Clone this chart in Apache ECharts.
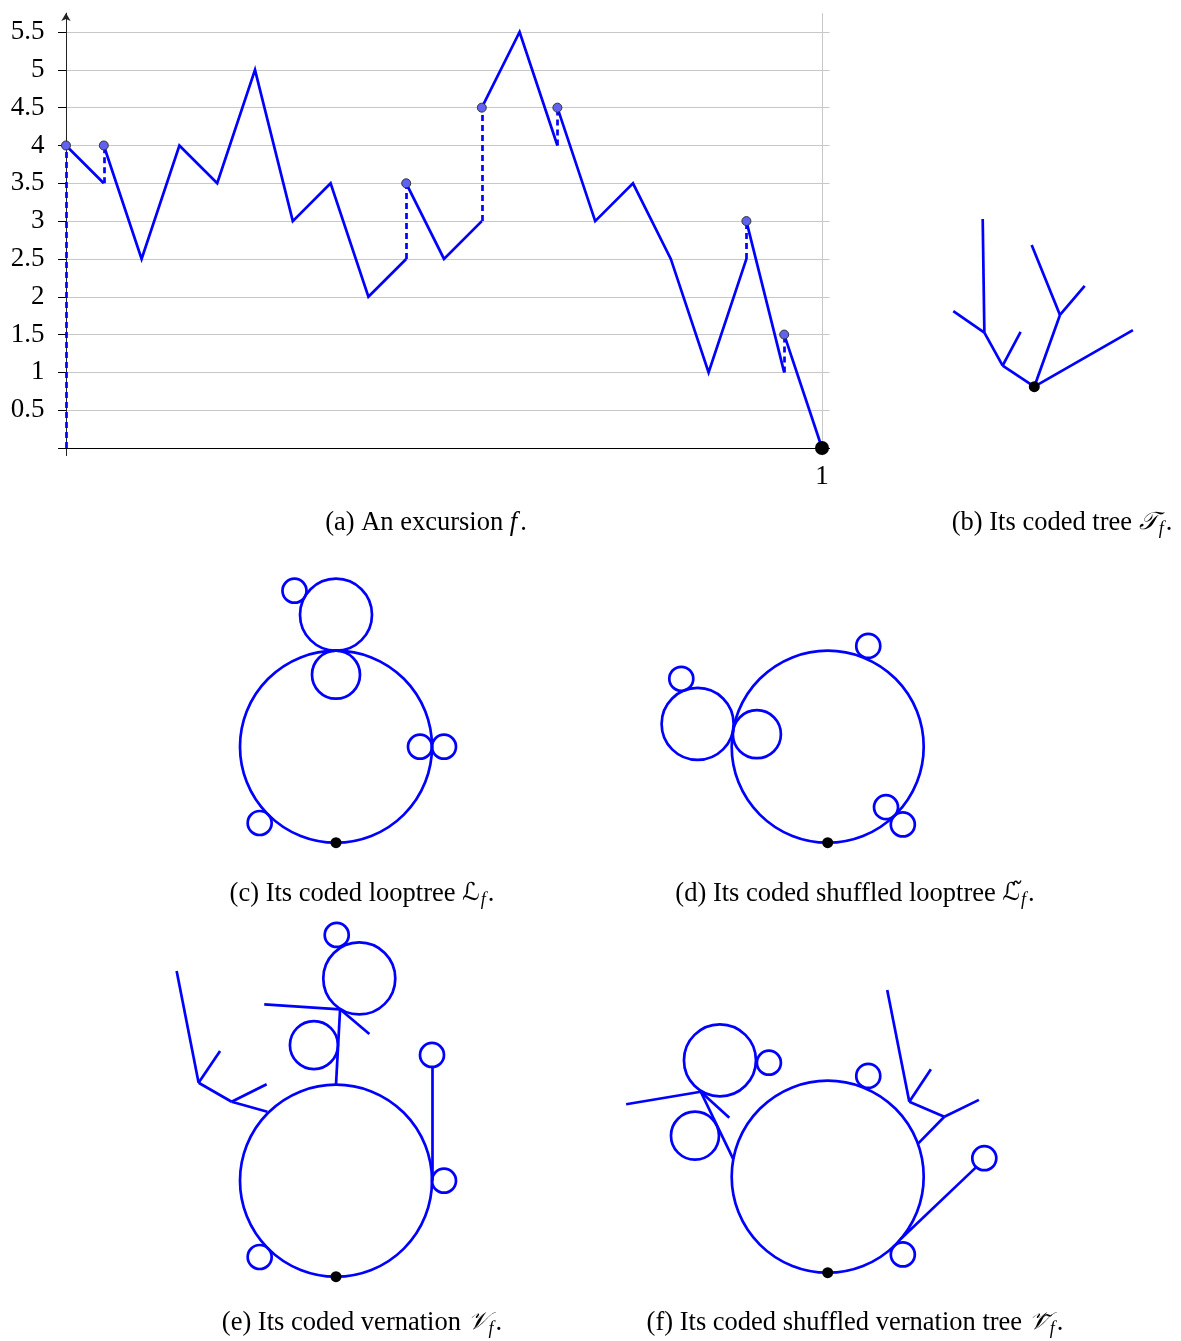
<!DOCTYPE html>
<html>
<head>
<meta charset="utf-8">
<script src="https://cdn.jsdelivr.net/npm/echarts@6/dist/echarts.min.js"></script>
<style>
  html, body { margin: 0; padding: 0; background: #ffffff; }
  #chart { width: 1181px; height: 1341px; }
</style>
</head>
<body>
<div id="chart"></div>
<script>
// ---------- (a) the excursion f ----------
// Times of the grid, left limits f(t-) and values f(t) (jumps where they differ).
const times  = [0, 0.05, 0.1, 0.15, 0.2, 0.25, 0.3, 0.35, 0.4, 0.45, 0.5, 0.55, 0.6, 0.65, 0.7, 0.75, 0.8, 0.85, 0.9, 0.95, 1];
const fLeft  = [0, 3.5, 2.5, 4, 3.5, 5, 3, 3.5, 2, 2.5, 2.5, 3, 5.5, 4, 3, 3.5, 2.5, 1, 2.5, 1, 0];
const fRight = [4, 4, 2.5, 4, 3.5, 5, 3, 3.5, 2, 3.5, 2.5, 4.5, 5.5, 4.5, 3, 3.5, 2.5, 1, 3, 1.5, 0];
const yTickValues = [0.5, 1, 1.5, 2, 2.5, 3, 3.5, 4, 4.5, 5, 5.5];
const xTickValues = [1];

// ---------- (b) coded tree: node positions (root first) and edges ----------
const treeNodes = [[0, 0], [-1.32, 0.875], [-0.57, 2.28], [-2.08, 2.25], [-3.375, 3.15], [-2.15, 6.99],
                   [1.07, 2.99], [-0.11, 5.9], [2.1, 4.2], [4.11, 2.36]];
const treeEdges = [[0, 1], [1, 2], [1, 3], [3, 4], [3, 5], [0, 6], [6, 7], [6, 8], [0, 9]];

// ---------- (c) looptree: loops as [centerX, centerY, radius] ----------
const loopsC = [[0, 4, 4], [0, 7, 1], [0, 9.5, 1.5], [-1.73, 10.5, 0.5], [3.5, 4, 0.5], [4.5, 4, 0.5], [-3.18, 0.82, 0.5]];

// ---------- (d) shuffled looptree ----------
const loopsD = [[0, 4, 4], [-2.95, 4.52, 1], [-5.42, 4.95, 1.5], [-6.1, 6.83, 0.5], [1.69, 8.2, 0.5], [2.43, 1.48, 0.5], [3.13, 0.76, 0.5]];

// ---------- (e) vernation ----------
const loopsE = [[0, 4, 4], [4.5, 4, 0.5], [4, 9.24, 0.5], [-3.18, 0.82, 0.5], [0.97, 12.43, 1.5], [0.03, 14.24, 0.5], [-0.92, 9.65, 1]];
const stickNodesE = [[4, 4], [4, 8.74], [0, 8], [0.17, 11.14], [-2.99, 11.35], [1.39, 10.11],
                     [-2.86, 6.875], [-4.35, 7.29], [-2.89, 8.02], [-5.725, 8.08], [-4.83, 9.4], [-6.64, 12.74]];
const stickEdgesE = [[0, 1], [2, 3], [3, 4], [3, 5], [6, 7], [7, 8], [7, 9], [9, 10], [9, 11]];

// ---------- (f) shuffled vernation tree ----------
const loopsF = [[0, 4, 4], [1.69, 8.2, 0.5], [6.525, 4.77, 0.5], [3.13, 0.76, 0.5], [-4.49, 8.85, 1.5], [-2.45, 8.75, 0.5], [-5.53, 5.71, 1]];
const stickNodesF = [[3.775, 5.39], [4.86, 6.5], [6.3, 7.2], [3.4, 7.125], [4.3, 8.475], [2.48, 11.78],
                     [3.03, 1.39], [6.21, 4.42], [-3.93, 4.725], [-5.29, 7.54], [-8.4, 7.02], [-4.1, 6.46]];
const stickEdgesF = [[0, 1], [1, 2], [1, 3], [3, 4], [3, 5], [6, 7], [8, 9], [9, 10], [9, 11]];

// ---------- captions ----------
const captionTexts = [
  '{n|(a) An excursion }{i|f}{n|.}',
  '{n|(b) Its coded tree }{m|\u{1D4AF}}{sub|f}{n|.}',
  '{n|(c) Its coded looptree }{m|\u2112}{sub|f}{n|.}',
  '{n|(d) Its coded shuffled looptree }{m|\u2112\u0303}{sub|f}{n|.}',
  '{n|(e) Its coded vernation }{m|\u{1D4B1}}{sub|f}{n|.}',
  '{n|(f) Its coded shuffled vernation tree }{m|\u{1D4B1}\u0303}{sub|f}{n|.}'
];

// ---------- styling / layout ----------
const BLUE = '#0000ff';
const LW = 2.7;
const SERIF = "'Liberation Serif', 'Times New Roman', serif";
const UNIT = 24; // pixels per drawing unit in panels (b)-(f)

function panelGrid(rootX, rootY, xr, yr) {
  return {
    left: rootX + xr[0] * UNIT,
    top: rootY - yr[1] * UNIT,
    width: (xr[1] - xr[0]) * UNIT,
    height: (yr[1] - yr[0]) * UNIT,
    outerBoundsMode: 'none'
  };
}
const panels = [
  { root: [1034.3, 386.7], xr: [-4, 5], yr: [-1, 8] },
  { root: [336, 842.7],    xr: [-5, 6], yr: [-1, 12] },
  { root: [827.7, 842.7],  xr: [-8, 5], yr: [-1, 10] },
  { root: [336, 1276.7],   xr: [-8, 6], yr: [-1, 16] },
  { root: [827.7, 1272.7], xr: [-9, 8], yr: [-1, 13] }
];
const captionPos = [[426, 523], [1062, 523], [362, 894], [855, 894], [362, 1323], [855, 1323]];

// ---------- build excursion pieces ----------
const solidPieces = [];
let piece = [[times[0], fRight[0]]];
for (let i = 1; i < times.length; i++) {
  piece.push([times[i], fLeft[i]]);
  if (fRight[i] !== fLeft[i] || i === times.length - 1) {
    solidPieces.push({ coords: piece });
    piece = [[times[i], fRight[i]]];
  }
}
const jumpLines = [];
const jumpTops = [];
for (let i = 0; i < times.length; i++) {
  if (fRight[i] !== fLeft[i]) {
    jumpLines.push({ coords: [[times[i], fLeft[i]], [times[i], fRight[i]]] });
    jumpTops.push([times[i], fRight[i]]);
  }
}

// ---------- grids / axes ----------
const grids = [{ left: 58.44, top: 13.1, width: 771.12, height: 442.5, outerBoundsMode: 'none' }]
  .concat(panels.map(p => panelGrid(p.root[0], p.root[1], p.xr, p.yr)));

const xAxes = [{
  gridIndex: 0, type: 'value', min: -0.01, max: 1.01,
  axisLine: { show: true, onZero: true, lineStyle: { color: '#000', width: 1 } },
  axisTick: { show: false, customValues: xTickValues },
  axisLabel: { customValues: xTickValues, color: '#000', fontFamily: SERIF, fontSize: 27, margin: 8 },
  splitLine: { show: true, lineStyle: { color: '#c8c8c8', width: 1 } }
}].concat(panels.map((p, k) => ({
  gridIndex: k + 1, type: 'value', min: p.xr[0], max: p.xr[1], show: false
})));

const yAxes = [{
  gridIndex: 0, type: 'value', min: -0.1, max: 5.75,
  axisLine: { show: true, onZero: true, symbol: ['none', 'arrow'], symbolSize: [7, 8], lineStyle: { color: '#222', width: 1 } },
  axisTick: { show: true, customValues: yTickValues, length: 8, lineStyle: { color: '#000' } },
  axisLabel: { customValues: yTickValues, color: '#000', fontFamily: SERIF, fontSize: 27, margin: 14 },
  splitLine: { show: true, lineStyle: { color: '#c8c8c8', width: 1 } }
}].concat(panels.map((p, k) => ({
  gridIndex: k + 1, type: 'value', min: p.yr[0], max: p.yr[1], show: false
})));

// ---------- series helpers ----------
function loopSeries(idx, loops) {
  return {
    type: 'custom', coordinateSystem: 'cartesian2d', xAxisIndex: idx, yAxisIndex: idx,
    data: loops, encode: { x: 0, y: 1 }, silent: true, z: 3,
    renderItem: (params, api) => {
      const c = api.coord([api.value(0), api.value(1)]);
      const r = api.size([api.value(2), 0])[0];
      return { type: 'circle', shape: { cx: c[0], cy: c[1], r: r },
               style: { fill: 'none', stroke: BLUE, lineWidth: LW } };
    }
  };
}
function stickSeries(idx, nodes, edges) {
  return {
    type: 'lines', coordinateSystem: 'cartesian2d', xAxisIndex: idx, yAxisIndex: idx,
    polyline: false, silent: true, z: 3,
    lineStyle: { color: BLUE, width: LW, opacity: 1, curveness: 0, cap: 'butt' },
    data: edges.map(e => ({ coords: [nodes[e[0]], nodes[e[1]]] }))
  };
}
function rootSeries(idx) {
  return {
    type: 'scatter', xAxisIndex: idx, yAxisIndex: idx, data: [[0, 0]],
    symbol: 'circle', symbolSize: 11, silent: true, z: 5,
    itemStyle: { color: '#000', opacity: 1 }
  };
}

const series = [
  {
    type: 'lines', coordinateSystem: 'cartesian2d', xAxisIndex: 0, yAxisIndex: 0,
    polyline: true, silent: true, z: 3,
    lineStyle: { color: BLUE, width: LW, opacity: 1, curveness: 0, join: 'miter', cap: 'butt' },
    data: solidPieces
  },
  {
    type: 'lines', coordinateSystem: 'cartesian2d', xAxisIndex: 0, yAxisIndex: 0,
    polyline: false, silent: true, z: 3,
    lineStyle: { color: BLUE, width: LW, opacity: 1, curveness: 0, type: [6, 4], cap: 'butt' },
    data: jumpLines
  },
  {
    type: 'scatter', xAxisIndex: 0, yAxisIndex: 0, data: jumpTops,
    symbol: 'circle', symbolSize: 9, silent: true, z: 5,
    itemStyle: { color: '#6262f2', borderColor: '#333', borderWidth: 1, opacity: 1 }
  },
  {
    type: 'scatter', xAxisIndex: 0, yAxisIndex: 0, data: [[times[times.length - 1], fRight[fRight.length - 1]]],
    symbol: 'circle', symbolSize: 14, silent: true, z: 6,
    itemStyle: { color: '#000', opacity: 1 }
  },
  // (b)
  stickSeries(1, treeNodes, treeEdges), rootSeries(1),
  // (c)
  loopSeries(2, loopsC), rootSeries(2),
  // (d)
  loopSeries(3, loopsD), rootSeries(3),
  // (e)
  loopSeries(4, loopsE), stickSeries(4, stickNodesE, stickEdgesE), rootSeries(4),
  // (f)
  loopSeries(5, loopsF), stickSeries(5, stickNodesF, stickEdgesF), rootSeries(5)
];

const capRich = {
  n:   { fontFamily: SERIF, fontSize: 26.5, lineHeight: 30, color: '#000' },
  i:   { fontFamily: SERIF, fontSize: 26.5, lineHeight: 30, fontStyle: 'italic', color: '#000', padding: [0, 3, 0, 0] },
  m:   { fontFamily: "'DejaVu Serif', 'DejaVu Sans', 'Noto Sans', serif", fontSize: 24.5, lineHeight: 30, fontStyle: 'italic', color: '#000' },
  sub: { fontFamily: SERIF, fontSize: 18, lineHeight: 16, fontStyle: 'italic', color: '#000', verticalAlign: 'bottom', padding: [0, 2, 0, 1] }
};

const graphics = captionTexts.map((t, k) => ({
  type: 'text', x: captionPos[k][0], y: captionPos[k][1], silent: true,
  style: { text: t, rich: capRich, align: 'center', verticalAlign: 'middle', fill: '#000' }
}));

const chart = echarts.init(document.getElementById('chart'), null, { renderer: 'canvas' });
chart.setOption({
  animation: false,
  backgroundColor: '#ffffff',
  grid: grids,
  xAxis: xAxes,
  yAxis: yAxes,
  series: series,
  graphic: graphics
});
</script>
</body>
</html>
